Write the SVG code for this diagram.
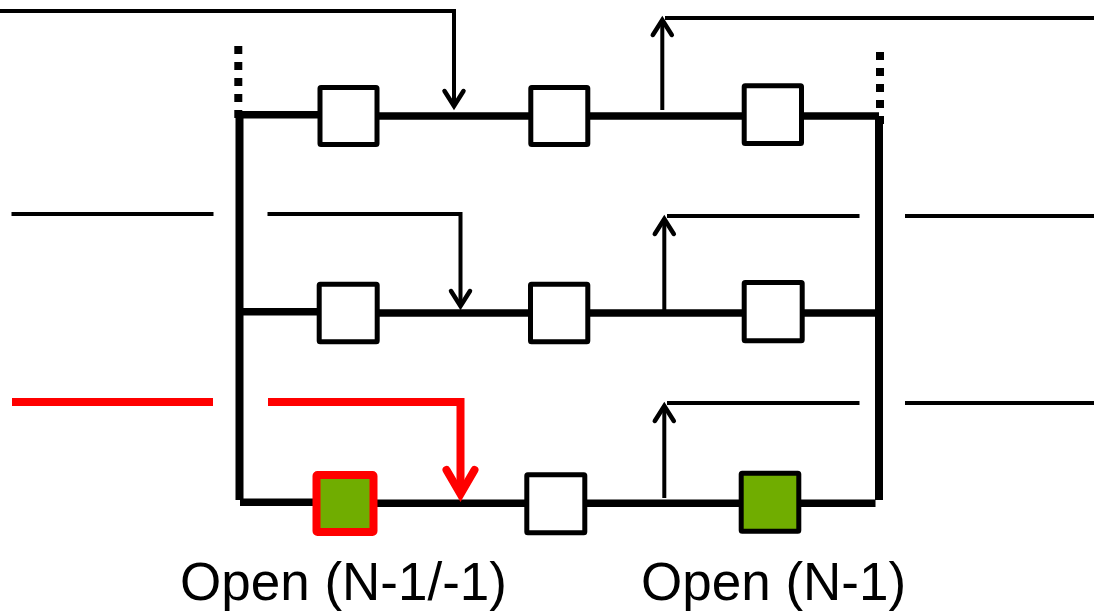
<svg xmlns="http://www.w3.org/2000/svg" width="1094" height="611" viewBox="0 0 1094 611">
<style>
.feed{fill:none;stroke:#000;stroke-width:4}
.red{fill:none;stroke:#f00;stroke-width:8}
.bus{fill:none;stroke:#000;stroke-width:7.5}
.rail{fill:none;stroke:#000;stroke-width:8}
.dots{fill:none;stroke:#000;stroke-width:8;stroke-dasharray:8 8}
.box{fill:#fff;stroke:#000;stroke-width:5;stroke-linejoin:round}
.on{fill:#70ad00;stroke:#000;stroke-width:5;stroke-linejoin:round}
.onred{fill:#70ad00;stroke:#f00;stroke-width:8;stroke-linejoin:round}
.lbl{font-family:"Liberation Sans",Arial,sans-serif;font-size:53px;fill:#000}
</style>
<defs>
<marker id="ah" markerUnits="userSpaceOnUse" orient="auto" overflow="visible" refX="0" refY="0" markerWidth="30" markerHeight="30">
<path d="M-15,-9.5L0,0L-15,9.5" fill="none" stroke="#000" stroke-width="4.5" stroke-linecap="round"/>
</marker>
<marker id="ahr" markerUnits="userSpaceOnUse" orient="auto" overflow="visible" refX="0" refY="0" markerWidth="40" markerHeight="40">
<path d="M-24,-14L0,0L-24,14" fill="none" stroke="#f00" stroke-width="8" stroke-linecap="round"/>
</marker>
</defs>
<g id="connectors">
<path class="rail" d="M239.5 114V500"/>
<path class="rail" d="M879 116V500"/>
<path class="dots" d="M238.3 46V118"/>
<path class="dots" d="M880 52V124"/>
<path class="bus" d="M240 114.8H320"/>
<path class="bus" d="M378 116H742"/>
<path class="bus" d="M802 116H879"/>
<path class="bus" d="M243 311.7H320"/>
<path class="bus" d="M378 313H742"/>
<path class="bus" d="M802 313H876"/>
<path class="bus" d="M240 502.3H316"/>
<path class="bus" d="M374 503.3H740"/>
<path class="bus" d="M800 503.3H875.5"/>
<path class="feed" d="M0 11H454V106" marker-end="url(#ah)"/>
<path class="feed" d="M662.3 110V20"  marker-end="url(#ah)"/>
<path class="feed" d="M665 18H1094"/>
<path class="feed" d="M11.5 214H213.5"/>
<path class="feed" d="M267.5 214H460.5V306" marker-end="url(#ah)"/>
<path class="feed" d="M664.3 310V219" marker-end="url(#ah)"/>
<path class="feed" d="M667 216H859.5"/>
<path class="feed" d="M905 216H1094"/>
<path class="red" d="M12 402H213"/>
<path class="red" d="M268 402H460.5V494" marker-end="url(#ahr)"/>
<path class="feed" d="M664.3 498V406" marker-end="url(#ah)"/>
<path class="feed" d="M667 403H859.5"/>
<path class="feed" d="M905 403H1094"/>
</g>
<g id="n11"><rect class="box" x="320" y="87.5" width="57" height="57" rx="1"/></g>
<g id="n12"><rect class="box" x="530.8" y="87.5" width="57" height="57" rx="1"/></g>
<g id="n13"><rect class="box" x="744.2" y="85.8" width="57.3" height="57.7" rx="1"/></g>
<g id="n21"><rect class="box" x="319.2" y="284.2" width="58" height="57.6" rx="1"/></g>
<g id="n22"><rect class="box" x="530.5" y="284.2" width="57.3" height="57.6" rx="1"/></g>
<g id="n23"><rect class="box" x="744.2" y="282.5" width="58" height="58.3" rx="1"/></g>
<g id="n31"><rect class="onred" x="316.5" y="475" width="57" height="57" rx="1"/></g>
<g id="n32"><rect class="box" x="526.8" y="474.8" width="58" height="58" rx="1"/></g>
<g id="n33"><rect class="on" x="741.2" y="473.2" width="57.6" height="58" rx="1"/></g>
<g id="label-1"><text class="lbl" x="180" y="600">Open (N-1/-1)</text></g>
<g id="label-2"><text class="lbl" x="641" y="600">Open (N-1)</text></g>
</svg>
